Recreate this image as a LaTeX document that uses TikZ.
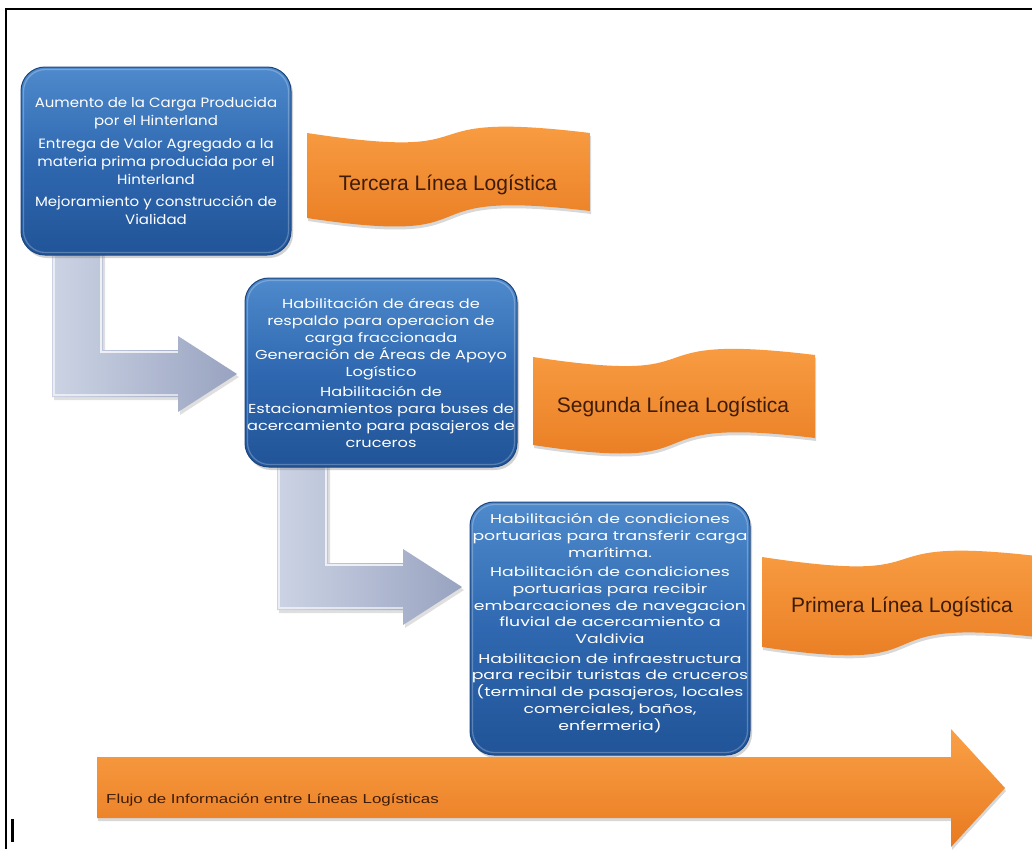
\documentclass[tikz,border=0pt]{standalone}
\usepackage{fontspec}
\setmainfont{Liberation Sans}
\newfontfamily\boxfonta{Poppins}[FakeStretch=1.11]
\newfontfamily\boxfontb{Poppins}[FakeStretch=1.245]
\newfontfamily\boxfontc{Poppins}[FakeStretch=1.35]
\newfontfamily\flowfont{Liberation Sans}[FakeStretch=1.3]
\usetikzlibrary{shadows,calc}
\definecolor{boxtop}{RGB}{78,138,204}
\definecolor{boxmid}{RGB}{47,104,176}
\definecolor{boxbot}{RGB}{33,84,152}
\definecolor{boxline}{RGB}{28,70,128}
\definecolor{orgtop}{RGB}{250,160,70}
\definecolor{orgbot}{RGB}{232,122,32}
\definecolor{bantext}{RGB}{62,28,8}
\definecolor{lleft}{RGB}{204,211,228}
\definecolor{lright}{RGB}{152,163,192}
\tikzset{
  bluebox/.style={rounded corners=24pt, draw=boxline, line width=1pt,
    top color=boxtop, bottom color=boxbot, middle color=boxmid,
    drop shadow={opacity=0.35, shadow xshift=2pt, shadow yshift=-3pt}},
  boxglint/.style={rounded corners=22pt, draw=white, draw opacity=0.25, line width=1.2pt},
  boxtext/.style={text=white, align=center, inner sep=0pt},
  bantxt/.style={text=bantext, font=\fontsize{21}{25}\selectfont, inner sep=0pt},
  banfill/.style={top color=orgtop, bottom color=orgbot,
    drop shadow={opacity=0.3, shadow xshift=1pt, shadow yshift=-3pt}},
  larrow/.style={left color=lleft, right color=lright,
    drop shadow={opacity=0.25, shadow xshift=2pt, shadow yshift=-3pt}},
}
% wave banner: #1 L, #2 R, #3 top-left y, #4 top-right y, #5 bottom-left y, #6 bottom-right y
\newcommand\wavebanner[6]{%
  \path[banfill]
   let \n1={#2-#1} in
   (#1,#3) .. controls ({#1+0.7*\n1},{#3+30}) and ({#1+0.3*\n1},{#4-24}) .. (#2,#4)
   -- (#2,#6) .. controls ({#1+0.3*\n1},{#6-24}) and ({#1+0.7*\n1},{#5+30}) .. (#1,#5)
   -- cycle;}
\newcommand\Lshape{%
  \path[larrow] (52,250) -- (103,250) -- (103,350) -- (178,350) -- (178,336)
    -- (237,374) -- (178,412) -- (178,397) -- (52,397) -- cycle;
  \draw[white, opacity=0.75, line width=1.6pt] (101,250) -- (101,352) -- (178,352);
  \draw[white, opacity=0.6, line width=1.4pt] (54,250) -- (54,395) -- (178,395);
}
\begin{document}
\begin{tikzpicture}[x=1pt,y=-1pt]
\useasboundingbox (0,0) rectangle (1032,849);
\clip (0,0) rectangle (1032,849);
\fill[white] (0,0) rectangle (1032,849);

% frame
\draw[black, line width=1.5pt] (6,849) -- (6,9) -- (1032,9);
\fill[black] (11,819) rectangle (14,842);

% L-shaped arrows (behind boxes)
\Lshape
\begin{scope}[shift={(225,213)}]
\Lshape
\end{scope}

% blue boxes
\node[bluebox, minimum width=270pt, minimum height=188pt] (box1) at (156,161) {};
\node[bluebox, minimum width=272pt, minimum height=189pt] (box2) at (381,372.5) {};
\node[bluebox, minimum width=280pt, minimum height=253pt] (box3) at (610,628.5) {};
\foreach \b in {box1,box2,box3}{
  \draw[boxglint] ([shift={(3pt,-3pt)}]\b.north west) rectangle ([shift={(-3pt,3pt)}]\b.south east);
}

\node[boxtext, font=\boxfonta\fontsize{13.5}{18}\selectfont] (t1) at (box1.center)
 {Aumento de la Carga  Producida\\por el Hinterland\\[4.5pt]
  Entrega de Valor Agregado a la\\materia  prima producida por el\\Hinterland\\[4.5pt]
  Mejoramiento y construcción de\\Vialidad};
\node[boxtext, font=\boxfontb\fontsize{13}{17}\selectfont] (t2) at (box2.center)
 {Habilitación de áreas de\\respaldo para operacion de\\carga fraccionada\\
  Generación de Áreas  de Apoyo\\Logístico\\[3pt]
  Habilitación de\\Estacionamientos para buses  de\\acercamiento para pasajeros  de\\cruceros};
\node[boxtext, font=\boxfontc\fontsize{12.8}{16.7}\selectfont] (t3) at ([yshift=5.5pt]box3.center)
 {Habilitación de condiciones\\portuarias para transferir  carga\\marítima.\\[3pt]
  Habilitación de condiciones\\portuarias para recibir\\embarcaciones de  navegacion\\fluvial de acercamiento a\\Valdivia\\[3pt]
  Habilitacion de infraestructura\\para recibir turistas  de cruceros\\(terminal de pasajeros,  locales\\comerciales, baños,\\enfermeria)};

% banners
\wavebanner{307}{590}{133}{133}{218}{211}
\node[bantxt] (tercera) at (448,185) {Tercera  Línea Logística};
\wavebanner{533}{815}{357}{355}{445}{438}
\node[bantxt] (segunda) at (673,407) {Segunda Línea Logística};
\wavebanner{762}{1045}{557}{557}{647}{638}
\node[bantxt] (primera) at (902,607) {Primera Línea  Logística};

% bottom flow arrow
\path[banfill] (97,757) -- (951,757) -- (951,729) -- (1005,788) -- (951,847)
  -- (951,818) -- (97,818) -- cycle;
\node[anchor=west, inner sep=0pt, text=bantext, font=\flowfont\fontsize{13}{15}\selectfont]
  (flow) at (106,800) {Flujo de Información entre Líneas Logísticas};
\end{tikzpicture}
\end{document}
